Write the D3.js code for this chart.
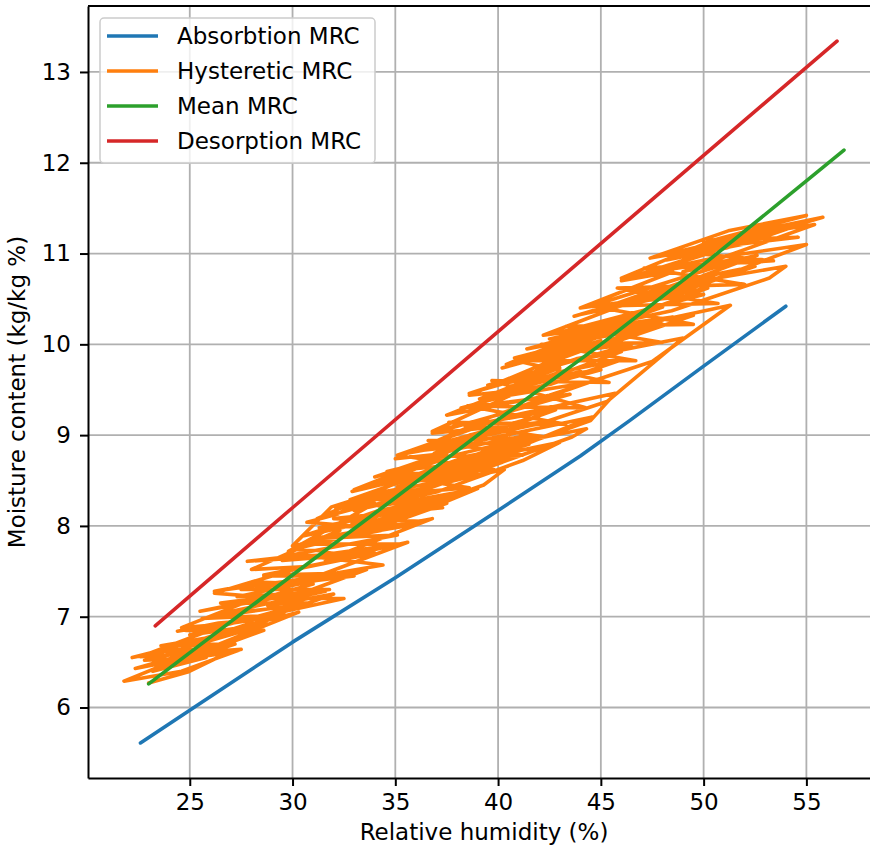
<!DOCTYPE html>
<html>
<head>
<meta charset="utf-8">
<script src="https://cdn.jsdelivr.net/npm/d3@7/dist/d3.min.js"></script>
<style>
  body { margin: 0; background: #fff; }
  svg { display: block; }
  text { font-family: 'DejaVu Sans', sans-serif; fill: #000; }
</style>
</head>
<body>
<div id="chart"></div>
<script>
// Tick labels
const xTicks = [25, 30, 35, 40, 45, 50, 55];
const yTicks = [6, 7, 8, 9, 10, 11, 12, 13];

// Series, [relative humidity %, moisture content %]
const absorbtionMRC = [
  [22.6, 5.61], [25.0, 5.97], [30.0, 6.72], [35.0, 7.43], [40.0, 8.17],
  [44.0, 8.77], [46.4, 9.16], [50.0, 9.76], [54.0, 10.42]
];

const meanMRC = [
  [23.0, 6.26], [30.0, 7.46], [35.0, 8.31], [40.0, 9.17], [45.0, 10.0],
  [50.0, 10.88], [55.0, 11.8], [56.83, 12.14]
];

const desorptionMRC = [
  [23.32, 6.9], [30.0, 8.2], [40.0, 10.14], [50.0, 12.08], [56.49, 13.34]
];

const hystereticMRC = [
  [23.0, 6.27], [24.9, 6.39], [26.8, 6.60], [24.3, 6.52], [21.8, 6.29],
  [24.6, 6.40], [27.5, 6.64], [25.0, 6.60], [22.35, 6.43], [24.4, 6.52],
  [26.4, 6.63], [24.3, 6.64], [22.2, 6.55], [25.3, 6.73], [28.5, 6.97],
  [26.4, 6.93], [24.4, 6.84], [28.4, 7.00], [32.5, 7.20], [29.0, 7.20],
  [25.5, 7.06], [28.3, 7.19], [31.0, 7.36], [28.6, 7.38], [26.2, 7.28],
  [30.3, 7.41], [34.4, 7.57], [31.0, 7.66], [27.8, 7.61], [30.2, 7.67],
  [32.4, 7.68], [31.2, 7.73], [30.0, 7.74], [32.2, 7.86], [34.3, 7.95],
  [32.4, 8.01], [30.7, 8.04], [32.2, 8.13], [33.3, 8.28], [32.1, 8.20],
  [36.0, 8.44], [34.0, 8.36], [31.9, 8.21], [30.0, 7.78], [33.75, 7.95],
  [37.5, 8.25], [33.0, 7.97], [36.0, 8.13], [39.0, 8.41], [36.3, 8.30],
  [33.6, 8.08], [37.4, 8.31], [34.2, 8.17], [31.0, 7.92], [34.25, 8.07],
  [37.5, 8.32], [32.9, 8.03], [35.4, 8.19], [33.0, 8.07], [30.5, 7.89],
  [34.9, 8.10], [39.3, 8.45], [40.3, 8.62], [37.15, 8.48], [34.0, 8.23],
  [36.5, 8.38], [33.0, 8.17], [37.1, 8.38], [41.2, 8.72], [43.0, 8.92],
  [39.05, 8.74], [35.1, 8.43], [38.6, 8.65], [35.7, 8.52], [32.8, 8.29],
  [36.9, 8.48], [41.0, 8.80], [38.5, 8.69], [36.0, 8.49], [39.8, 8.67],
  [43.6, 8.98], [44.3, 9.07], [41.15, 8.93], [38.0, 8.68], [41.5, 8.90],
  [38.55, 8.77], [35.6, 8.53], [40.0, 8.81], [37.0, 8.62], [40.8, 8.85],
  [44.6, 9.20], [39.3, 8.95], [34.0, 8.54], [38.0, 8.79], [32.9, 8.38],
  [38.7, 8.69], [44.5, 9.16], [45.7, 9.46], [40.4, 9.20], [35.1, 8.78],
  [37.7, 8.89], [40.3, 9.10], [36.5, 8.87], [39.25, 8.99], [42.0, 9.21],
  [38.6, 9.00], [41.95, 9.12], [45.3, 9.37], [49.0, 10.07], [43.8, 9.84],
  [38.6, 9.46], [43.0, 9.74], [39.1, 9.40], [42.55, 9.56], [46.0, 9.83],
  [43.1, 9.70], [40.2, 9.47], [44.0, 9.70], [40.75, 9.51], [37.5, 9.22],
  [42.5, 9.44], [47.5, 9.81], [51.3, 10.43], [45.75, 10.16], [40.2, 9.74],
  [45.0, 10.04], [41.4, 9.81], [44.45, 9.95], [47.5, 10.19], [44.75, 10.07],
  [42.0, 9.85], [45.75, 10.03], [49.5, 10.32], [45.45, 10.20], [41.4, 9.95],
  [43.95, 10.06], [46.5, 10.26], [42.5, 10.06], [45.25, 10.19], [48.0, 10.41],
  [43.7, 10.14], [48.45, 10.37], [53.2, 10.73], [54.0, 10.86], [48.85, 10.66],
  [43.7, 10.31], [47.0, 10.52], [44.0, 10.33], [48.25, 10.53], [52.5, 10.86],
  [49.25, 10.71], [46.0, 10.45], [50.5, 10.73], [47.75, 10.61], [45.0, 10.39],
  [50.0, 10.67], [55.0, 11.10], [50.5, 10.95], [46.0, 10.73], [50.5, 11.15],
  [55.0, 11.42], [51.2, 11.25], [47.4, 10.95], [51.6, 11.12], [55.8, 11.40],
  [52.0, 11.22], [48.2, 10.93], [51.1, 11.06], [54.0, 11.29], [49.0, 10.98],
  [53.5, 11.26], [48.5, 10.95], [51.85, 11.10], [55.2, 11.36], [50.0, 11.04],
  [54.0, 11.29], [51.0, 11.10], [54.5, 11.32],
  // drift back down the band
  [47.0, 10.78], [52.0, 10.95], [44.5, 10.42], [50.0, 10.55], [42.8, 10.12],
  [48.5, 10.30], [40.8, 9.85], [46.5, 10.00], [39.5, 9.55], [45.0, 9.72],
  [38.2, 9.30], [43.5, 9.45], [36.8, 9.02], [42.5, 9.15], [35.8, 8.82],
  [41.0, 8.95], [34.6, 8.60], [40.0, 8.72], [33.6, 8.45], [38.8, 8.55],
  [32.4, 8.20], [37.0, 8.28], [31.3, 7.98], [36.0, 8.02], [30.4, 7.80],
  [35.2, 7.80], [29.5, 7.62], [34.0, 7.70], [28.6, 7.45], [33.0, 7.45],
  [27.5, 7.30], [31.8, 7.30], [26.5, 7.15], [30.8, 7.15], [25.6, 6.98],
  [29.6, 7.02], [24.8, 6.85], [28.0, 6.85], [23.6, 6.68], [26.5, 6.70],
  [22.8, 6.52], [25.8, 6.55], [23.2, 6.40],
  // and up again
  [27.2, 6.70], [23.9, 6.60], [28.8, 6.92], [25.0, 6.80], [30.2, 7.12],
  [26.2, 7.02], [31.6, 7.28], [27.3, 7.22], [32.9, 7.48], [28.6, 7.46],
  [33.9, 7.70], [29.5, 7.66], [35.1, 7.90], [31.0, 7.86], [36.3, 8.05],
  [32.0, 8.08], [37.3, 8.20], [33.3, 8.32], [38.6, 8.42], [34.5, 8.56],
  [39.8, 8.62], [35.7, 8.76], [41.2, 8.78], [36.6, 8.94], [42.3, 8.98],
  [37.6, 9.14], [43.3, 9.12], [38.5, 9.32], [44.3, 9.30], [39.7, 9.60],
  [45.4, 9.58], [40.9, 9.82], [46.7, 9.82], [42.1, 10.00], [48.0, 10.02],
  [43.3, 10.20], [49.5, 10.22], [44.6, 10.42], [50.7, 10.45], [45.8, 10.62],
  [52.0, 10.66], [47.1, 10.84], [53.4, 10.92], [48.7, 11.02], [54.6, 11.18],
  [50.2, 11.14], [55.4, 11.32],
  // run down again
  [49.0, 10.80], [52.6, 10.98], [46.4, 10.45], [50.2, 10.62], [44.0, 10.10],
  [48.0, 10.26], [41.8, 9.74], [46.0, 9.92], [40.0, 9.42], [44.4, 9.58],
  [38.4, 9.10], [42.8, 9.28], [36.9, 8.80], [41.5, 9.00], [35.5, 8.50],
  [40.2, 8.70], [34.2, 8.22], [38.6, 8.38], [33.0, 7.92], [36.8, 8.08],
  [31.6, 7.62], [35.6, 7.82], [30.2, 7.36], [33.6, 7.52], [28.8, 7.12],
  [32.0, 7.25], [27.4, 6.88], [30.3, 7.05], [26.0, 6.66], [28.6, 6.85],
  [24.6, 6.52], [27.0, 6.62],
  // final climb along the upper side of the band
  [22.6, 6.56], [26.8, 6.92], [24.6, 6.88], [28.4, 7.22], [26.2, 7.26],
  [30.5, 7.55], [28.0, 7.52], [32.3, 7.95], [29.8, 7.72], [34.0, 8.25],
  [31.2, 8.08], [35.8, 8.55], [33.0, 8.40], [37.5, 8.80], [35.0, 8.74],
  [39.5, 9.18], [36.8, 9.04], [41.2, 9.50], [38.6, 9.44], [43.0, 9.86],
  [40.4, 9.78], [44.8, 10.18], [42.2, 10.10], [46.6, 10.48], [44.0, 10.40],
  [48.5, 10.80], [46.0, 10.70], [50.5, 11.02], [48.0, 10.98], [52.5, 11.22],
  [50.0, 11.12]
];

const seriesNames = ['Absorbtion MRC', 'Hysteretic MRC', 'Mean MRC', 'Desorption MRC'];
const seriesColors = ['#1f77b4', '#ff7f0e', '#2ca02c', '#d62728'];
const seriesData = [absorbtionMRC, hystereticMRC, meanMRC, desorptionMRC];

// Layout (axes box runs past the right edge of the page, as in the original)
const width = 870;
const height = 852;
const box = { left: 88, right: 880, top: 6, bottom: 778 };
const fontSize = 23;
const lineWidth = 3.6;
const gridWidth = 1.8;
const spineWidth = 2;

// Autoscale with 5% margins, like matplotlib
const allPoints = seriesData.flat();
const padExtent = ext => {
  const pad = (ext[1] - ext[0]) * 0.05;
  return [ext[0] - pad, ext[1] + pad];
};
const x = d3.scaleLinear()
  .domain(padExtent(d3.extent(allPoints, d => d[0])))
  .range([box.left, box.right]);
const y = d3.scaleLinear()
  .domain(padExtent(d3.extent(allPoints, d => d[1])))
  .range([box.bottom, box.top]);

const svg = d3.select('#chart')
  .append('svg')
  .attr('width', width)
  .attr('height', height);

svg.append('defs').append('clipPath')
  .attr('id', 'plot-clip')
  .append('rect')
  .attr('x', box.left)
  .attr('y', box.top)
  .attr('width', box.right - box.left)
  .attr('height', box.bottom - box.top);

// Grid
const grid = svg.append('g').attr('class', 'grid')
  .attr('stroke', '#b0b0b0')
  .attr('stroke-width', gridWidth);

grid.selectAll('.gx')
  .data(xTicks)
  .enter()
  .append('line')
  .attr('x1', d => x(d))
  .attr('x2', d => x(d))
  .attr('y1', box.top)
  .attr('y2', box.bottom);

grid.selectAll('.gy')
  .data(yTicks)
  .enter()
  .append('line')
  .attr('x1', box.left)
  .attr('x2', box.right)
  .attr('y1', d => y(d))
  .attr('y2', d => y(d));

// Lines
const line = d3.line()
  .x(d => x(d[0]))
  .y(d => y(d[1]));

const plot = svg.append('g').attr('clip-path', 'url(#plot-clip)');

plot.selectAll('.series')
  .data(seriesData)
  .enter()
  .append('path')
  .attr('class', 'series')
  .attr('d', d => line(d))
  .attr('fill', 'none')
  .attr('stroke', (d, i) => seriesColors[i])
  .attr('stroke-width', lineWidth)
  .attr('stroke-linejoin', 'round')
  .attr('stroke-linecap', 'round');

// Axes
const xAxis = svg.append('g')
  .attr('transform', `translate(0, ${box.bottom})`)
  .call(d3.axisBottom(x).tickValues(xTicks).tickSize(8).tickSizeOuter(0).tickPadding(8));

const yAxis = svg.append('g')
  .attr('transform', `translate(${box.left}, 0)`)
  .call(d3.axisLeft(y).tickValues(yTicks).tickSize(8).tickSizeOuter(0).tickPadding(9));

[xAxis, yAxis].forEach(axis => {
  axis.selectAll('path, line')
    .attr('stroke', '#000')
    .attr('stroke-width', spineWidth);
  axis.selectAll('text')
    .attr('font-family', "'DejaVu Sans', sans-serif")
    .attr('font-size', fontSize)
    .attr('fill', '#000');
});

// Top spine
svg.append('line')
  .attr('x1', box.left)
  .attr('x2', box.right)
  .attr('y1', box.top)
  .attr('y2', box.top)
  .attr('stroke', '#000')
  .attr('stroke-width', spineWidth);

// Axis labels
svg.append('text')
  .attr('x', (box.left + box.right) / 2)
  .attr('y', 840)
  .attr('text-anchor', 'middle')
  .attr('font-size', fontSize)
  .text('Relative humidity (%)');

svg.append('text')
  .attr('transform', `translate(25, ${(box.top + box.bottom) / 2}) rotate(-90)`)
  .attr('text-anchor', 'middle')
  .attr('font-size', fontSize)
  .text('Moisture content (kg/kg %)');

// Legend
const legend = svg.append('g').attr('class', 'legend');

legend.append('rect')
  .attr('x', 100)
  .attr('y', 18)
  .attr('width', 275)
  .attr('height', 145)
  .attr('rx', 4)
  .attr('fill', '#fff')
  .attr('fill-opacity', 0.8)
  .attr('stroke', '#cccccc')
  .attr('stroke-width', 1.5);

const rowGap = 35;
seriesNames.forEach((name, i) => {
  const cy = 36 + i * rowGap;
  legend.append('line')
    .attr('x1', 107)
    .attr('x2', 158)
    .attr('y1', cy)
    .attr('y2', cy)
    .attr('stroke', seriesColors[i])
    .attr('stroke-width', lineWidth);
  legend.append('text')
    .attr('x', 177)
    .attr('y', cy + 8)
    .attr('font-size', fontSize)
    .text(name);
});
</script>
</body>
</html>
